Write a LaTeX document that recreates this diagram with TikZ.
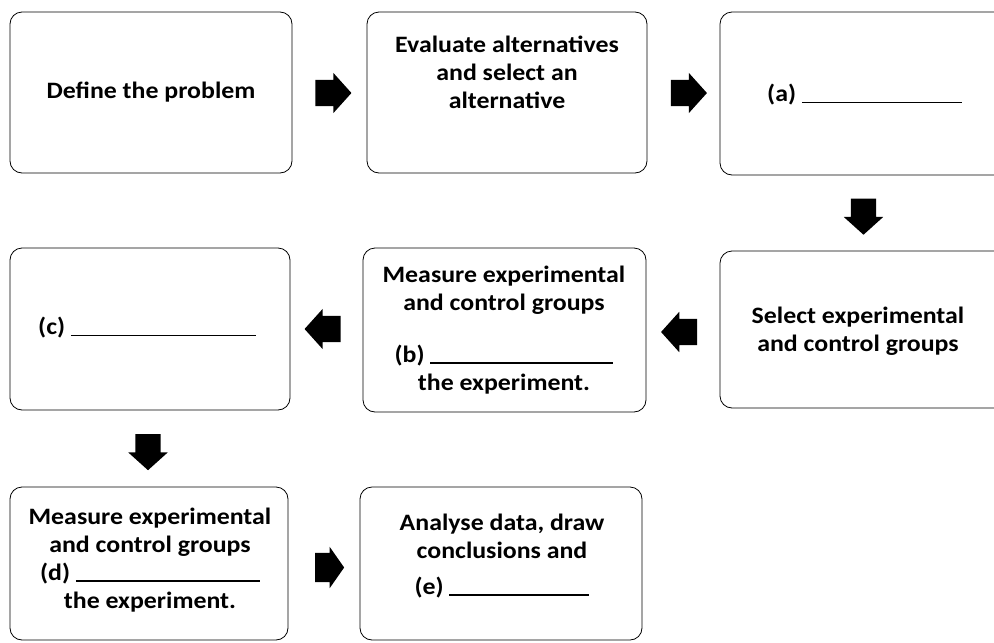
\documentclass[tikz,border=0pt]{standalone}
\usepackage{fontspec}
\setmainfont[FakeStretch=1.1]{Carlito}
\usetikzlibrary{shapes.arrows}
\newcommand{\blank}[1]{\rule[-1.5pt]{#1}{1.8pt}}
\begin{document}
\begin{tikzpicture}[x=1pt,y=-1pt,
  box/.style={draw=black, line width=0.8pt, rounded corners=12pt, inner sep=0pt},
  txt/.style={align=center, inner sep=0pt, font=\fontsize{23.5}{28}\selectfont\bfseries},
  blockarrow/.style={single arrow, fill=black, draw=none, inner xsep=0pt, inner ysep=13pt,
     minimum height=36pt, single arrow head extend=7pt,
     single arrow tip angle=96},
  downarrow/.style={blockarrow, shape border rotate=270, inner xsep=12.5pt, inner ysep=0pt}
]
\useasboundingbox (0,0) rectangle (994,643);
% boxes
\node[box, minimum width=282pt, minimum height=161pt] (b1) at (151,92.5) {};
\node[box, minimum width=280pt, minimum height=161pt] (b2) at (507,92.5) {};
\node[box, minimum width=290pt, minimum height=163pt] (b3) at (865,93.5) {};
\node[box, minimum width=280pt, minimum height=162pt] (b4) at (150,329) {};
\node[box, minimum width=283pt, minimum height=164pt] (b5) at (504.5,330) {};
\node[box, minimum width=290pt, minimum height=157pt] (b6) at (865,329.5) {};
\node[box, minimum width=278pt, minimum height=153pt] (b7) at (149,563.5) {};
\node[box, minimum width=282pt, minimum height=153pt] (b8) at (501,563.5) {};
% texts
\node[txt] (t1) at (151,92) {Define the problem};
\node[txt] (t2) at (507,72) {Evaluate alternatives\\and select an\\alternative};
\node[txt, anchor=west] (t3) at (767,95) {(a) \blank{160pt}};
\node[txt, anchor=west] (t4) at (38,328) {(c) \blank{185pt}};
\node[txt] (t5) at (504,330) {Measure experimental\\and control groups\\[24pt](b) \blank{183pt}\\the experiment.};
\node[txt] (t6) at (858,331) {Select experimental\\and control groups};
\node[txt] (t7) at (150,560) {Measure experimental\\and control groups\\(d) \blank{184pt}\\the experiment.};
\node[txt] (t8) at (502,556) {Analyse data, draw\\conclusions and\\[8pt](e) \blank{140pt}};
% arrows
\node[blockarrow] (a1) at (327.5,93) {};
\node[blockarrow] (a2) at (683,93) {};
\node[downarrow] (a3) at (863.5,211) {};
\node[blockarrow, shape border rotate=180] (a4) at (685,332) {};
\node[blockarrow, shape border rotate=180] (a5) at (328.5,329) {};
\node[downarrow] (a6) at (148,446.5) {};
\node[blockarrow, minimum height=29pt, inner ysep=14.5pt, single arrow head extend=6pt, single arrow tip angle=110] (a7) at (324.5,567.5) {};
\end{tikzpicture}
\end{document}
